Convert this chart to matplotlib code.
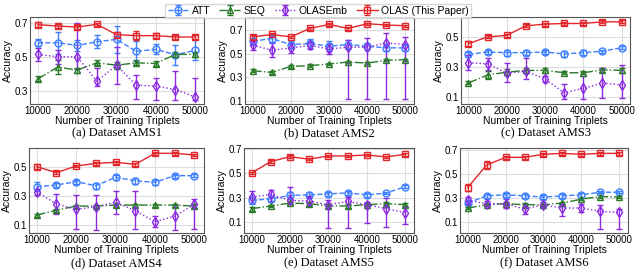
import matplotlib
matplotlib.use("Agg")
import matplotlib.pyplot as plt

plt.rcParams["font.family"] = ["Liberation Sans", "DejaVu Sans"]

# training set sizes (x axis)
triplets = [10000, 15000, 20000, 25000, 30000, 35000, 40000, 45000, 50000]

# ---- accuracy values per dataset ----
att = {
    "AMS1": [0.583, 0.583, 0.567, 0.589, 0.603, 0.532, 0.544, 0.512, 0.538],
    "AMS2": [0.606, 0.629, 0.578, 0.587, 0.564, 0.578, 0.564, 0.550, 0.550],
    "AMS3": [0.385, 0.401, 0.397, 0.397, 0.401, 0.388, 0.397, 0.406, 0.430],
    "AMS4": [0.365, 0.377, 0.400, 0.372, 0.430, 0.407, 0.395, 0.442, 0.442],
    "AMS5": [0.277, 0.291, 0.318, 0.323, 0.331, 0.339, 0.323, 0.337, 0.390],
    "AMS6": [0.260, 0.321, 0.329, 0.321, 0.310, 0.321, 0.329, 0.351, 0.351],
}
att_err = {
    "AMS1": [0.02, 0.065, 0.03, 0.04, 0.08, 0.06, 0.03, 0.06, 0.06],
    "AMS2": [0.03, 0.03, 0.03, 0.04, 0.04, 0.04, 0.03, 0.03, 0.03],
    "AMS3": [0.015, 0.015, 0.02, 0.015, 0.015, 0.02, 0.015, 0.01, 0.01],
    "AMS4": [0.03, 0.015, 0.015, 0.02, 0.015, 0.02, 0.02, 0.015, 0.01],
    "AMS5": [0.03, 0.02, 0.03, 0.02, 0.015, 0.015, 0.015, 0.01, 0.01],
    "AMS6": [0.02, 0.015, 0.015, 0.015, 0.015, 0.015, 0.015, 0.01, 0.01],
}

seq = {
    "AMS1": [0.369, 0.439, 0.421, 0.464, 0.450, 0.464, 0.460, 0.514, 0.514],
    "AMS2": [0.357, 0.343, 0.394, 0.400, 0.414, 0.430, 0.422, 0.445, 0.450],
    "AMS3": [0.194, 0.247, 0.266, 0.278, 0.278, 0.262, 0.262, 0.282, 0.278],
    "AMS4": [0.167, 0.202, 0.230, 0.230, 0.237, 0.237, 0.237, 0.237, 0.230],
    "AMS5": [0.210, 0.232, 0.256, 0.251, 0.232, 0.232, 0.243, 0.251, 0.243],
    "AMS6": [0.219, 0.246, 0.255, 0.246, 0.246, 0.260, 0.293, 0.315, 0.310],
}
seq_err = {
    "AMS1": [0.015, 0.04, 0.015, 0.015, 0.02, 0.015, 0.015, 0.015, 0.015],
    "AMS2": [0.015, 0.015, 0.015, 0.01, 0.01, 0.01, 0.01, 0.01, 0.01],
    "AMS3": [0.01, 0.03, 0.02, 0.015, 0.015, 0.01, 0.01, 0.015, 0.015],
    "AMS4": [0.01, 0.01, 0.01, 0.01, 0.01, 0.01, 0.01, 0.01, 0.015],
    "AMS5": [0.015, 0.01, 0.01, 0.015, 0.015, 0.015, 0.01, 0.01, 0.01],
    "AMS6": [0.01, 0.01, 0.015, 0.015, 0.01, 0.01, 0.01, 0.01, 0.01],
}

olasemb = {
    "AMS1": [0.514, 0.500, 0.500, 0.355, 0.450, 0.332, 0.326, 0.306, 0.262],
    "AMS2": [0.572, 0.530, 0.550, 0.570, 0.541, 0.555, 0.555, 0.592, 0.578],
    "AMS3": [0.329, 0.322, 0.260, 0.271, 0.221, 0.127, 0.158, 0.192, 0.181],
    "AMS4": [0.330, 0.244, 0.207, 0.226, 0.256, 0.198, 0.121, 0.160, 0.242],
    "AMS5": [0.304, 0.326, 0.277, 0.272, 0.242, 0.269, 0.242, 0.210, 0.178],
    "AMS6": [0.282, 0.255, 0.255, 0.210, 0.246, 0.219, 0.219, 0.191, 0.183],
}
olasemb_lo = {
    "AMS1": [0.04, 0.04, 0.07, 0.03, 0.11, 0.08, 0.08, 0.06, 0.02],
    "AMS2": [0.04, 0.06, 0.04, 0.03, 0.04, 0.44, 0.44, 0.47, 0.46],
    "AMS3": [0.05, 0.04, 0.06, 0.05, 0.02, 0.04, 0.07, 0.10, 0.09],
    "AMS4": [0.02, 0.07, 0.14, 0.16, 0.08, 0.13, 0.04, 0.10, 0.17],
    "AMS5": [0.05, 0.06, 0.03, 0.035, 0.19, 0.215, 0.15, 0.15, 0.095],
    "AMS6": [0.03, 0.02, 0.04, 0.045, 0.02, 0.07, 0.03, 0.15, 0.14],
}
olasemb_hi = {
    "AMS1": [0.04, 0.04, 0.20, 0.08, 0.11, 0.06, 0.05, 0.11, 0.11],
    "AMS2": [0.04, 0.06, 0.04, 0.03, 0.04, 0.065, 0.08, 0.085, 0.06],
    "AMS3": [0.05, 0.04, 0.07, 0.09, 0.02, 0.06, 0.08, 0.10, 0.13],
    "AMS4": [0.02, 0.07, 0.10, 0.08, 0.08, 0.14, 0.04, 0.08, 0.04],
    "AMS5": [0.05, 0.04, 0.11, 0.045, 0.035, 0.035, 0.02, 0.09, 0.045],
    "AMS6": [0.03, 0.02, 0.04, 0.045, 0.02, 0.03, 0.03, 0.05, 0.03],
}

olas = {
    "AMS1": [0.690, 0.682, 0.676, 0.692, 0.631, 0.625, 0.625, 0.617, 0.617],
    "AMS2": [0.643, 0.663, 0.643, 0.714, 0.748, 0.714, 0.754, 0.743, 0.737],
    "AMS3": [0.457, 0.502, 0.513, 0.576, 0.588, 0.592, 0.592, 0.603, 0.603],
    "AMS4": [0.505, 0.463, 0.509, 0.528, 0.535, 0.521, 0.598, 0.598, 0.586],
    "AMS5": [0.501, 0.595, 0.635, 0.614, 0.641, 0.641, 0.649, 0.633, 0.654],
    "AMS6": [0.390, 0.578, 0.642, 0.642, 0.667, 0.675, 0.667, 0.675, 0.675],
}
olas_err = {
    "AMS1": [0.015, 0.01, 0.01, 0.01, 0.015, 0.025, 0.015, 0.01, 0.01],
    "AMS2": [0.015, 0.01, 0.01, 0.01, 0.015, 0.015, 0.01, 0.01, 0.01],
    "AMS3": [0.015, 0.01, 0.01, 0.01, 0.01, 0.01, 0.01, 0.01, 0.01],
    "AMS4": [0.015, 0.01, 0.01, 0.01, 0.01, 0.01, 0.01, 0.01, 0.01],
    "AMS5": [0.01, 0.01, 0.01, 0.01, 0.01, 0.01, 0.01, 0.01, 0.01],
    "AMS6": [0.03, 0.03, 0.01, 0.01, 0.01, 0.01, 0.01, 0.01, 0.01],
}

datasets = ["AMS1", "AMS2", "AMS3", "AMS4", "AMS5", "AMS6"]
captions = ["(a) Dataset AMS1", "(b) Dataset AMS2", "(c) Dataset AMS3",
            "(d) Dataset AMS4", "(e) Dataset AMS5", "(f) Dataset AMS6"]
yticks = {
    "AMS1": [0.3, 0.5, 0.7], "AMS2": [0.1, 0.3, 0.5, 0.7], "AMS3": [0.1, 0.3, 0.5],
    "AMS4": [0.1, 0.3, 0.5], "AMS5": [0.1, 0.3, 0.5, 0.7], "AMS6": [0.1, 0.3, 0.5, 0.7],
}
ylims = {
    "AMS1": (0.223, 0.735), "AMS2": (0.08, 0.81), "AMS3": (0.056, 0.635),
    "AMS4": (0.042, 0.635), "AMS5": (0.011, 0.706), "AMS6": (0.01, 0.72),
}

# axes boxes in figure fractions [left, bottom, width, height]
boxes = [
    [0.047, 0.618, 0.272, 0.319], [0.383, 0.618, 0.264, 0.319], [0.720, 0.618, 0.265, 0.319],
    [0.045, 0.140, 0.273, 0.314], [0.381, 0.140, 0.266, 0.314], [0.719, 0.140, 0.262, 0.314],
]

C_ATT = "#3d7fff"
C_SEQ = "#2a7a2a"
C_EMB = "#8a2be2"
C_OLAS = "#e3262b"

fig = plt.figure(figsize=(6.4, 2.71), dpi=100)
handles = None
for i, ds in enumerate(datasets):
    ax = fig.add_axes(boxes[i])
    common = dict(capsize=2.5, elinewidth=1.0, capthick=1.0, linewidth=1.0,
                  markersize=5, mfc="none", mew=1.0)
    h1 = ax.errorbar(triplets, att[ds], yerr=att_err[ds], color=C_ATT, ls="--",
                     marker="o", label="ATT", **common)
    h2 = ax.errorbar(triplets, seq[ds], yerr=seq_err[ds], color=C_SEQ, ls="-.",
                     marker="^", label="SEQ", **common)
    h3 = ax.errorbar(triplets, olasemb[ds], yerr=[olasemb_lo[ds], olasemb_hi[ds]],
                     color=C_EMB, ls=":", marker="d", label="OLASEmb", **common)
    h4 = ax.errorbar(triplets, olas[ds], yerr=olas_err[ds], color=C_OLAS, ls="-",
                     marker="s", label="OLAS (This Paper)", **common)
    handles = [h1, h2, h3, h4]

    ax.set_xlim(8000, 52300)
    ax.set_ylim(*ylims[ds])
    ax.set_xticks([10000, 20000, 30000, 40000, 50000])
    ax.set_yticks(yticks[ds])
    ax.set_yticklabels([f"{t:.1f}" for t in yticks[ds]])
    ax.tick_params(labelsize=7, length=0, pad=1.5)
    ax.grid(True, color="#dddddd", linewidth=0.8)
    ax.set_axisbelow(True)
    for s in ax.spines.values():
        s.set_color("#555555")
        s.set_linewidth(0.8)
    ax.set_xlabel("Number of Training Triplets", fontsize=7.5, labelpad=0)
    ax.set_ylabel("Accuracy", fontsize=7.5, labelpad=1)

    b = boxes[i]
    cap_y = 0.508 if i < 3 else 0.030
    fig.text(b[0] + b[2] / 2, cap_y, captions[i], ha="center", va="center",
             fontsize=9, family="Liberation Serif")

fig.legend(handles, ["ATT", "SEQ", "OLASEmb", "OLAS (This Paper)"],
           loc="upper center", bbox_to_anchor=(0.497, 1.005), ncol=4,
           fontsize=7.5, frameon=True, edgecolor="#cccccc", fancybox=False,
           handlelength=2.0, columnspacing=0.9, borderpad=0.2, handletextpad=0.3)

fig.savefig("out.png", dpi=100)
